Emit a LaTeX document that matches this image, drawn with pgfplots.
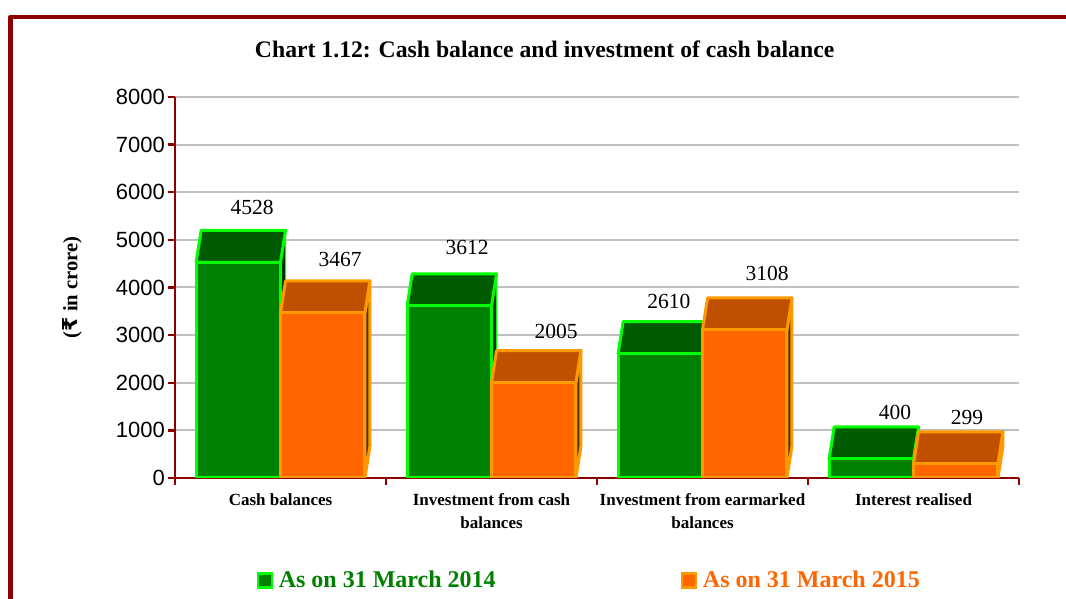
\documentclass[border=0pt]{standalone}
\usepackage{fontspec}
\setmainfont{Liberation Serif}
\newfontfamily\tickfont{Liberation Sans}
\newfontfamily\rupeefont{DejaVu Sans}
\usepackage{pgfplots}
\usepackage{pgfplotstable}
\pgfplotsset{compat=1.18}
\definecolor{frame}{HTML}{8B0000}
\definecolor{gfront}{HTML}{008000}
\definecolor{gtop}{HTML}{005A00}
\definecolor{gedge}{HTML}{00FF00}
\definecolor{gside}{HTML}{003000}
\definecolor{ofront}{HTML}{FF6600}
\definecolor{otop}{HTML}{BF5000}
\definecolor{oedge}{HTML}{FF9900}
\definecolor{oside}{HTML}{503000}
\definecolor{gridc}{HTML}{C0C0C0}
\pgfplotstableread{
x y dy
0.365 4528 55
0.782 3467 53
1.384 3612 58
1.806 2005 51
2.341 2610 52
2.806 3108 57
3.412 400 46
3.754 299 46
}\labeldata
\begin{document}
\begin{tikzpicture}[x=1pt,y=1pt]
\clip (0,0) rectangle (1066,599);
\path[use as bounding box] (0,0) rectangle (1066,599);
\begin{axis}[
  at={(175pt,121pt)}, anchor=south west,
  scale only axis, width=844pt, height=381pt,
  xmin=0, xmax=4, ymin=0, ymax=8000,
  axis lines*=left,
  axis line style={frame, line width=2.4pt},
  xtick={0.5,1.5,2.5,3.5},
  xticklabels={Cash balances,{Investment from cash\\balances},{Investment from earmarked\\balances},Interest realised},
  minor xtick={0,1,2,3,4},
  ytick={0,1000,...,8000},
  minor tick length=7pt,
  major tick length=7pt,
  tick align=outside,
  every tick/.style={frame, line width=2.4pt},
  minor x tick style={frame, line width=2.4pt},
  major x tick style={draw=none},
  ymajorgrids,
  grid style={gridc, line width=2pt},
  yticklabel style={font=\tickfont\fontsize{22}{24}\selectfont, /pgf/number format/assume math mode=true, /pgf/number format/1000 sep={}, inner xsep=3pt},
  xticklabel style={font=\bfseries\fontsize{17}{22.5}\selectfont, align=center},
  x tick label style={yshift=-5pt},
  title={\bfseries Chart 1.12: Cash balance and investment of cash balance},
  title style={font=\fontsize{23.7}{28}\selectfont, at={(axis description cs:0.438,1.11)}, anchor=center, yshift=0pt},
  ylabel={\bfseries ({\rupeefont\bfseries ₹} in crore)},
  ylabel style={font=\fontsize{20.6}{24}\selectfont, at={(axis description cs:-0.122,0.5)}, anchor=center},
  legend style={at={(axis description cs:0.0965,-0.268)}, anchor=west, draw=none, fill=none, legend columns=2,
    font=\bfseries\fontsize{24}{27}\selectfont, /tikz/every even column/.append style={column sep=183pt}, inner sep=0pt},
  gf/.style={fill=gfront, draw=gedge, line width=3pt, line join=round, forget plot},
  gt/.style={fill=gtop, draw=gedge, line width=3pt, line join=round, forget plot},
  gs/.style={fill=gside, draw=gedge, line width=1pt, line join=round, forget plot},
  of/.style={fill=ofront, draw=oedge, line width=3pt, line join=round, forget plot},
  ot/.style={fill=otop, draw=oedge, line width=3pt, line join=round, forget plot},
  os/.style={fill=oside, draw=oedge, line width=3pt, line join=round, forget plot},
]
% Cash balances
\addplot[gs] coordinates {(0.5,0) (0.524,672) (0.524,5200) (0.5,4528)} --cycle;
\addplot[gt] coordinates {(0.1,4528) (0.124,5200) (0.524,5200) (0.5,4528)} --cycle;
\addplot[gf] coordinates {(0.1,0) (0.1,4528) (0.5,4528) (0.5,0)} --cycle;
\addplot[os] coordinates {(0.9,0) (0.924,672) (0.924,4139) (0.9,3467)} --cycle;
\addplot[ot] coordinates {(0.5,3467) (0.524,4139) (0.924,4139) (0.9,3467)} --cycle;
\addplot[of] coordinates {(0.5,0) (0.5,3467) (0.9,3467) (0.9,0)} --cycle;
% Investment from cash balances
\addplot[gs] coordinates {(1.5,0) (1.524,672) (1.524,4284) (1.5,3612)} --cycle;
\addplot[gt] coordinates {(1.1,3612) (1.124,4284) (1.524,4284) (1.5,3612)} --cycle;
\addplot[gf] coordinates {(1.1,0) (1.1,3612) (1.5,3612) (1.5,0)} --cycle;
\addplot[os] coordinates {(1.9,0) (1.924,672) (1.924,2677) (1.9,2005)} --cycle;
\addplot[ot] coordinates {(1.5,2005) (1.524,2677) (1.924,2677) (1.9,2005)} --cycle;
\addplot[of] coordinates {(1.5,0) (1.5,2005) (1.9,2005) (1.9,0)} --cycle;
% Investment from earmarked balances
\addplot[gs] coordinates {(2.5,0) (2.524,672) (2.524,3282) (2.5,2610)} --cycle;
\addplot[gt] coordinates {(2.1,2610) (2.124,3282) (2.524,3282) (2.5,2610)} --cycle;
\addplot[gf] coordinates {(2.1,0) (2.1,2610) (2.5,2610) (2.5,0)} --cycle;
\addplot[os] coordinates {(2.9,0) (2.924,672) (2.924,3780) (2.9,3108)} --cycle;
\addplot[ot] coordinates {(2.5,3108) (2.524,3780) (2.924,3780) (2.9,3108)} --cycle;
\addplot[of] coordinates {(2.5,0) (2.5,3108) (2.9,3108) (2.9,0)} --cycle;
% Interest realised
\addplot[gs] coordinates {(3.5,0) (3.524,672) (3.524,1072) (3.5,400)} --cycle;
\addplot[gt] coordinates {(3.1,400) (3.124,1072) (3.524,1072) (3.5,400)} --cycle;
\addplot[gf] coordinates {(3.1,0) (3.1,400) (3.5,400) (3.5,0)} --cycle;
\addplot[os] coordinates {(3.9,0) (3.924,672) (3.924,971) (3.9,299)} --cycle;
\addplot[ot] coordinates {(3.5,299) (3.524,971) (3.924,971) (3.9,299)} --cycle;
\addplot[of] coordinates {(3.5,0) (3.5,299) (3.9,299) (3.9,0)} --cycle;
% data labels
\addplot[only marks, mark=none, forget plot, nodes near coords, point meta=y,
  visualization depends on={\thisrow{dy} \as \dyval},
  nodes near coords style={font=\fontsize{21.5}{24}\selectfont, anchor=center, yshift=\dyval pt, text=black, inner sep=0pt, /pgf/number format/assume math mode=true, /pgf/number format/1000 sep={}},
] table[x=x,y=y] {\labeldata};
% legend
\addlegendimage{legend image code/.code={\path[draw=none,fill=none] (0pt,0pt) rectangle (20pt,1pt); \fill[gfront, draw=gedge, line width=2.4pt] (1pt,-7.5pt) rectangle (15pt,6.5pt);}}
\addlegendentry{\textcolor{gfront}{As on 31 March 2014}}
\addlegendimage{legend image code/.code={\path[draw=none,fill=none] (0pt,0pt) rectangle (20pt,1pt); \fill[ofront, draw=oedge, line width=2.4pt] (1pt,-7.5pt) rectangle (15pt,6.5pt);}}
\addlegendentry{\textcolor{ofront}{As on 31 March 2015}}
\end{axis}
\draw[frame, line width=4.6pt, line join=round] (10.3,-20) -- (10.3,582) -- (1090,582);
\end{tikzpicture}
\end{document}
